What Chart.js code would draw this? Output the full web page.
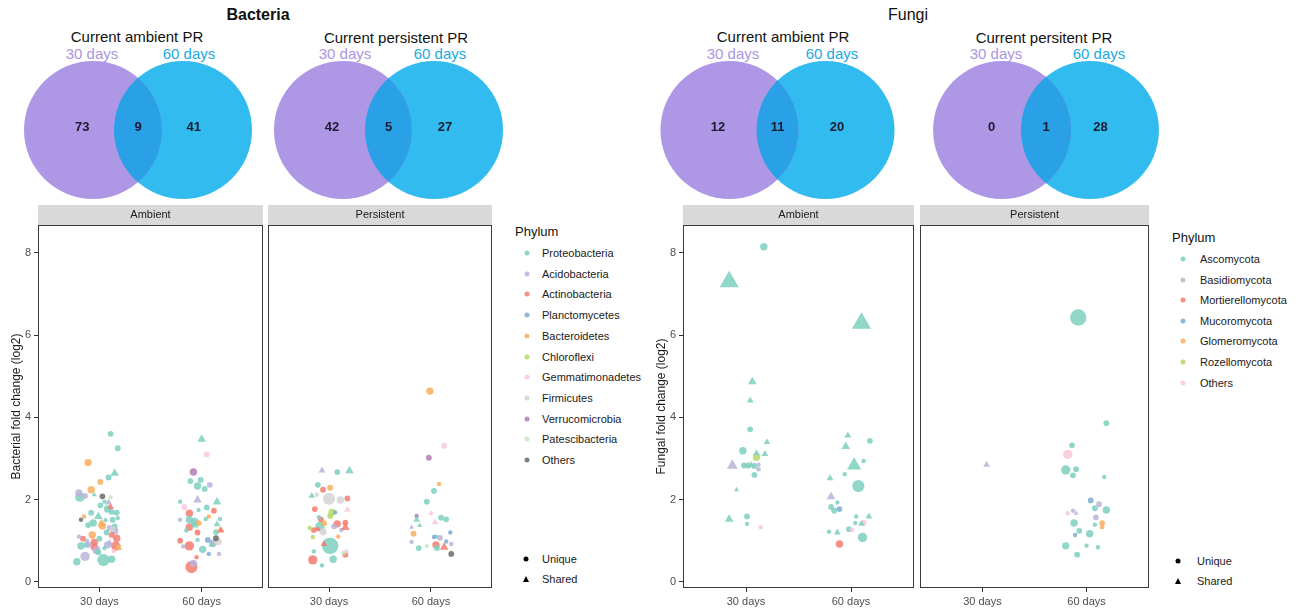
<!DOCTYPE html>
<html lang="en">
<head>
  <meta charset="UTF-8">
  <title>Bacteria and fungi fold change</title>
  <style>
* { margin: 0; padding: 0; box-sizing: border-box; }
body {
  width: 1301px;
  height: 614px;
  position: relative;
  overflow: hidden;
  background: #fff;
  font-family: "Liberation Sans", Arial, sans-serif;
  color: #111;
}
canvas { position: absolute; }
.c {
  position: absolute;
  transform: translate(-50%, -50%);
  white-space: nowrap;
}
.l {
  position: absolute;
  transform: translateY(-50%);
  white-space: nowrap;
}
.head { font-size: 16px; }
.sub { font-size: 15px; }
.d30 { font-size: 15px; color: #ab95df; }
.d60 { font-size: 15px; color: #22a9e1; }
.key { font-size: 11px; color: #1a1a1a; }
.ktitle { font-size: 13px; color: #111; }
.dot { position: absolute; width: 5px; height: 5px; border-radius: 50%; transform: translate(-50%, -50%); }
.tri { position: absolute; width: 0; height: 0; border-left: 3.5px solid transparent; border-right: 3.5px solid transparent; border-bottom: 6px solid #000; transform: translate(-50%, -50%); }
  </style>
</head>
<body>
  <div class="c head" style="left:258px;top:15px;font-weight:bold">Bacteria</div>
  <div class="c sub" style="left:137px;top:36px">Current ambient PR</div>
  <div class="c sub" style="left:396px;top:37px">Current persistent PR</div>
  <div class="c d30" style="left:92px;top:53px">30 days</div>
  <div class="c d60" style="left:189px;top:53px">60 days</div>
  <div class="c d30" style="left:345px;top:53px">30 days</div>
  <div class="c d60" style="left:440px;top:53px">60 days</div>

  <div class="c head" style="left:908px;top:15px">Fungi</div>
  <div class="c sub" style="left:783px;top:36px">Current ambient PR</div>
  <div class="c sub" style="left:1044px;top:37px">Current persitent PR</div>
  <div class="c d30" style="left:733px;top:53px">30 days</div>
  <div class="c d60" style="left:832px;top:53px">60 days</div>
  <div class="c d30" style="left:996px;top:53px">30 days</div>
  <div class="c d60" style="left:1099px;top:53px">60 days</div>

  <canvas id="vennBA"></canvas>
  <canvas id="vennBP"></canvas>
  <canvas id="vennFA"></canvas>
  <canvas id="vennFP"></canvas>

  <canvas id="bactAmb"></canvas>
  <canvas id="bactPer"></canvas>
  <canvas id="fungAmb"></canvas>
  <canvas id="fungPer"></canvas>

  <script src="https://cdn.jsdelivr.net/npm/chart.js@4.4.0/dist/chart.umd.min.js"></script>
  <script>
    // ---- data ----
    const groups = ['30 days', '60 days'];
    const yTicks = [0, 2, 4, 6, 8];

    // venn counts: [only 30 days, both, only 60 days]
    const vennBactAmbient = [73, 9, 41];
    const vennBactPersistent = [42, 5, 27];
    const vennFungiAmbient = [12, 11, 20];
    const vennFungiPersistent = [0, 1, 28];

    const bacteriaPhyla = ['Proteobacteria', 'Acidobacteria', 'Actinobacteria', 'Planctomycetes', 'Bacteroidetes',
      'Chloroflexi', 'Gemmatimonadetes', 'Firmicutes', 'Verrucomicrobia', 'Patescibacteria', 'Others'];
    const fungiPhyla = ['Ascomycota', 'Basidiomycota', 'Mortierellomycota', 'Mucoromycota', 'Glomeromycota',
      'Rozellomycota', 'Others'];
    const shapes = ['Unique', 'Shared'];

    // points: [day position (jittered), log2 fold change, phylum index, shared (0/1), abundance class]
    const bactAmbient = [
      [1.11,3.60,0,0,2],[1.18,3.25,0,0,2],[0.89,2.90,4,0,3],[1.15,2.64,0,1,3],[1.09,2.54,0,0,2],[1.01,2.43,4,0,2],
      [0.92,2.24,4,0,3],[0.80,2.16,1,0,3],[0.81,2.06,0,0,4],[0.95,2.12,0,1,1],[1.03,2.08,10,0,2],[1.11,2.06,9,0,1],
      [1.05,1.95,0,0,1],[1.09,1.93,1,1,2],[1.01,1.86,0,0,2],[1.11,1.82,2,1,2],[1.08,1.77,0,0,3],[1.17,1.68,0,0,2],
      [0.92,1.68,0,0,2],[1.12,1.70,0,0,2],[0.82,1.51,10,0,1],[0.85,1.59,4,0,1],[0.99,1.59,0,1,3],[0.94,1.43,0,0,3],
      [1.02,1.41,4,1,3],[1.03,1.36,4,0,3],[1.13,1.51,0,0,2],[1.15,1.35,0,0,2],[1.10,1.31,1,0,2],[1.13,1.28,7,0,2],
      [1.15,1.24,1,0,3],[0.93,1.14,4,0,3],[1.17,1.06,2,0,3],[1.12,1.14,2,0,2],[0.80,1.10,1,0,1],[0.95,0.96,2,0,3],
      [0.82,0.87,0,0,3],[0.87,0.90,0,0,2],[0.95,0.85,2,0,3],[0.98,0.80,1,0,2],[1.08,0.90,1,0,3],[1.16,0.87,2,0,4],
      [1.19,0.86,4,0,1],[0.97,0.76,1,0,3],[1.05,0.82,0,0,1],[0.78,0.49,0,0,3],[0.86,0.62,1,0,4],[1.04,0.53,0,0,5],
      [1.12,0.55,0,0,3],[1.00,1.05,0,0,2],[0.88,1.00,1,0,1],[0.99,0.72,0,0,2],[1.14,0.75,6,0,1],[0.89,1.38,0,0,2],
      [1.19,0.83,9,0,1],[1.06,1.50,0,0,1],[0.90,0.90,1,0,2],[1.18,1.55,0,0,1],[0.84,1.05,2,0,2],[1.07,1.20,0,0,2],
      [0.86,2.09,1,0,2],[1.19,0.82,4,1,2],[1.10,0.95,1,1,2],
      [2.00,3.47,0,1,3],[2.05,3.10,6,0,2],[1.92,2.67,8,0,3],[1.89,2.45,0,0,2],[1.99,2.48,0,0,2],[2.08,2.36,1,0,2],
      [1.96,2.33,0,0,3],[2.03,2.26,0,0,2],[1.79,1.95,0,0,1],[1.96,1.99,1,1,3],[2.15,1.94,0,1,3],[1.83,1.82,6,0,2],
      [2.05,1.81,0,0,2],[2.12,1.73,2,0,2],[1.88,1.67,2,0,3],[1.97,1.75,0,0,1],[1.79,1.51,1,0,1],[1.88,1.51,0,0,3],
      [1.93,1.47,0,0,3],[1.88,1.33,2,0,3],[2.04,1.53,0,0,1],[2.18,1.53,0,0,1],[2.07,1.59,4,0,1],[2.15,1.40,0,1,2],
      [1.96,1.20,2,0,2],[2.18,1.26,4,1,2],[1.79,1.00,2,0,2],[2.14,1.06,10,0,2],[2.06,1.02,3,0,2],[2.11,0.94,1,0,3],
      [2.16,0.98,7,0,3],[2.01,0.79,0,0,3],[1.88,0.875,2,0,4],[1.82,0.86,1,0,1],[1.96,1.02,0,0,1],[2.10,0.90,0,1,2],
      [2.07,0.68,3,0,1],[2.17,0.68,1,0,1],[1.95,0.60,2,0,1],[1.90,0.36,2,0,5],[1.92,0.45,1,0,3],[1.97,1.43,4,0,2],
      [1.93,1.38,0,1,3],[2.14,1.21,0,0,2],[1.85,1.25,0,0,1],[2.19,1.25,2,1,2]
    ];
    const bactPersistent = [
      [0.93,2.71,1,1,2],[1.08,2.67,0,0,2],[1.20,2.70,0,1,3],[0.89,2.36,0,0,2],[1.01,2.29,4,0,2],[0.94,2.24,2,0,2],
      [0.83,2.09,0,1,2],[0.88,2.12,7,0,1],[1.00,2.02,7,0,5],[1.11,1.99,7,0,3],[1.18,2.03,2,0,2],[0.86,1.77,2,0,2],
      [1.18,1.75,6,1,2],[1.03,1.69,5,0,3],[1.01,1.60,5,0,2],[1.06,1.69,3,0,1],[0.90,1.57,0,0,1],[0.92,1.52,2,0,2],
      [1.08,1.41,2,0,3],[1.05,1.35,1,0,2],[1.16,1.44,2,0,2],[1.16,1.32,2,1,3],[0.95,1.43,4,0,2],[0.91,1.35,0,0,4],
      [0.81,1.31,5,0,1],[0.85,1.26,2,0,2],[0.89,1.28,2,0,1],[0.94,1.22,7,0,3],[0.84,1.09,5,0,1],[1.12,1.26,1,0,1],
      [1.09,1.10,4,0,1],[1.01,0.875,0,0,6],[0.95,0.92,2,1,2],[1.17,0.74,6,0,1],[1.14,0.70,9,0,1],[1.16,0.66,2,0,2],
      [0.85,0.74,0,0,1],[0.84,0.535,2,0,4],[1.04,0.55,0,0,3],[0.93,0.40,0,0,1],
      [2.13,3.31,6,0,2],[1.98,3.02,8,0,2],[2.08,2.38,4,0,1],[2.03,2.21,0,0,2],[1.96,1.95,0,0,2],[2.00,1.67,6,0,1],
      [1.86,1.60,8,0,1],[2.10,1.56,0,0,2],[2.15,1.52,0,0,2],[2.04,1.45,6,1,2],[1.86,1.51,0,1,2],[1.89,1.37,0,1,1],
      [1.81,1.33,1,1,1],[1.83,1.17,4,0,2],[2.19,1.20,3,0,1],[2.05,1.10,0,0,1],[2.03,1.09,3,0,1],[2.09,1.07,1,0,2],
      [1.81,0.97,1,0,1],[2.15,0.98,3,0,1],[2.20,0.92,1,0,1],[2.05,0.90,2,0,3],[1.88,0.82,0,0,2],[1.96,0.875,9,0,1],
      [2.06,0.82,0,0,2],[2.13,0.84,2,1,3],[2.20,0.68,10,0,2],[1.99,4.64,4,0,3]
    ];
    const fungiAmbient = [
      [1.17,8.15,0,0,3],[0.84,7.30,0,1,6],[1.06,4.87,0,1,3],[1.04,4.41,0,1,2],[1.04,3.71,0,0,2],[1.20,3.40,0,1,2],
      [0.97,3.19,0,0,3],[1.10,3.13,0,1,2],[1.18,3.11,0,1,2],[1.10,3.03,5,0,3],[0.87,2.83,1,1,4],[0.98,2.83,0,0,2],
      [1.02,2.83,0,0,2],[1.12,2.85,1,0,1],[1.12,2.74,1,0,1],[1.08,2.60,0,0,2],[0.91,2.24,0,1,1],[0.84,1.52,0,1,3],
      [1.01,1.59,0,0,2],[1.01,1.41,0,0,1],[1.14,1.33,6,0,1],[1.05,2.84,0,1,2],[1.08,2.82,0,0,2],
      [2.10,6.29,0,1,6],[1.97,3.56,0,1,2],[2.18,3.43,0,0,2],[1.95,3.29,0,1,3],[2.03,2.83,0,1,5],[2.12,2.94,0,0,1],
      [1.94,2.62,0,0,1],[1.80,2.52,0,1,2],[2.07,2.33,0,0,5],[1.81,2.07,1,1,3],[1.87,1.93,0,0,1],[1.81,1.82,0,0,2],
      [1.84,1.73,0,0,2],[1.89,1.77,3,0,2],[2.05,1.59,0,0,1],[2.17,1.59,0,1,2],[2.04,1.43,0,0,1],[2.10,1.41,0,1,2],
      [2.12,1.44,6,0,2],[1.79,1.22,0,0,1],[1.87,1.20,0,1,2],[1.98,1.28,0,0,2],[2.01,1.26,6,0,1],[2.11,1.08,0,0,4],
      [1.89,0.92,2,0,3]
    ];
    const fungiPersistent = [
      [1.04,2.85,1,1,2],
      [1.92,6.43,0,0,6],[2.19,3.86,0,0,2],[1.86,3.32,0,0,2],[1.82,3.10,6,0,4],[1.80,2.72,0,0,4],[1.90,2.74,0,0,2],
      [1.87,2.59,0,0,2],[2.17,2.55,0,0,1],[2.04,1.98,3,0,2],[2.12,1.89,1,0,2],[2.08,1.79,0,0,2],[2.19,1.75,0,0,3],
      [1.82,1.67,6,0,1],[1.87,1.73,1,0,1],[1.90,1.67,1,1,1],[2.09,1.57,1,0,2],[1.88,1.43,0,0,3],[2.08,1.39,0,0,1],
      [2.15,1.43,4,0,2],[2.15,1.33,4,0,1],[1.93,1.24,0,0,2],[1.89,1.14,3,0,1],[2.03,1.17,0,0,3],[1.80,0.875,0,0,3],
      [2.00,0.88,0,0,1],[2.11,0.84,0,0,1],[1.91,0.66,0,0,2]
    ];

    // ---- styles ----
    const bacteriaColors = ['#7ccfc0', '#bab4d8', '#f47b6e', '#7eadd0', '#f9ad5c', '#b2db66',
      '#f8c8dd', '#d4d4d4', '#b37bb6', '#c8e8c0', '#6a6a6a'];
    const fungiColors = ['#7ccfc0', '#bab4d8', '#f47b6e', '#7eadd0', '#f9ad5c', '#b2db66', '#f8c8dd'];
    const RADII = [0, 2.2, 2.9, 3.7, 4.7, 6.1, 8.2];
    const FONT = '"Liberation Sans", Arial, sans-serif';
    Chart.defaults.font.family = FONT;

    function rgba(hex, a) {
      const n = parseInt(hex.slice(1), 16);
      return `rgba(${n >> 16},${(n >> 8) & 255},${n & 255},${a})`;
    }

    // ---- venn diagrams ----
    function vennChart(id, cx1, cx2, counts) {
      const d = cx2 - cx1;
      const cv = document.getElementById(id);
      cv.width = Math.round(d * 2.8);
      cv.height = 150;
      cv.style.left = (cx1 - d * 0.9) + 'px';
      cv.style.top = '55px';
      const lens = {
        id: 'lens',
        afterDatasetsDraw(chart) {
          const ctx = chart.ctx;
          const a = chart.getDatasetMeta(0).data[0];
          const b = chart.getDatasetMeta(1).data[0];
          const r = a.options.radius;
          ctx.save();
          ctx.beginPath();
          ctx.arc(a.x, a.y, r, 0, Math.PI * 2);
          ctx.clip();
          ctx.beginPath();
          ctx.arc(b.x, b.y, r, 0, Math.PI * 2);
          ctx.fillStyle = '#2aa1e7';
          ctx.fill();
          ctx.restore();
          const gap = b.x - a.x;
          ctx.save();
          ctx.font = 'bold 13px ' + FONT;
          ctx.fillStyle = '#1b1b30';
          ctx.textAlign = 'center';
          ctx.textBaseline = 'middle';
          ctx.fillText(counts[0], a.x - gap * 0.12, a.y - 3);
          ctx.fillText(counts[1], (a.x + b.x) / 2, a.y - 3);
          ctx.fillText(counts[2], b.x + gap * 0.12, a.y - 3);
          ctx.restore();
        }
      };
      new Chart(cv, {
        type: 'scatter',
        data: {
          datasets: [
            { data: [{ x: 0, y: 0 }], pointBackgroundColor: '#ae97e5', pointBorderWidth: 0, pointRadius: 69, clip: false },
            { data: [{ x: 1, y: 0 }], pointBackgroundColor: '#31bbef', pointBorderWidth: 0, pointRadius: 69, clip: false }
          ]
        },
        options: {
          responsive: false,
          animation: false,
          events: [],
          layout: { padding: 0, autoPadding: false },
          plugins: { legend: { display: false }, tooltip: { enabled: false } },
          scales: {
            x: { display: false, min: -0.9, max: 1.9 },
            y: { display: false, min: -1, max: 1 }
          }
        },
        plugins: [lens]
      });
    }

    vennChart('vennBA', 93, 183, vennBactAmbient);
    vennChart('vennBP', 343, 434, vennBactPersistent);
    vennChart('vennFA', 729, 825, vennFungiAmbient);
    vennChart('vennFP', 1002, 1090, vennFungiPersistent);

    // ---- scatter panels ----
    function panelChart(id, left, width, padL, padR, points, colors, strip, yTitle) {
      const cv = document.getElementById(id);
      cv.width = width;
      cv.height = 414;
      cv.style.left = left + 'px';
      cv.style.top = '200px';
      const showY = !!yTitle;
      const sorted = points.slice().sort((a, b) => b[4] - a[4]);
      const makeSet = shared => ({
        data: sorted.filter(p => p[3] === shared).map(p => ({ x: p[0], y: p[1], ph: p[2], lv: p[4] })),
        pointStyle: shared ? 'triangle' : 'circle',
        pointRadius: c => c.raw ? RADII[c.raw.lv] * (shared ? 1.35 : 1) : 0,
        pointBackgroundColor: c => c.raw ? rgba(colors[c.raw.ph], 0.85) : 'transparent',
        pointBorderWidth: 0,
        borderWidth: 0
      });
      const deco = {
        id: 'deco',
        afterDraw(chart) {
          const ctx = chart.ctx;
          const { left, right, top, bottom } = chart.chartArea;
          ctx.save();
          ctx.fillStyle = '#d9d9d9';
          ctx.fillRect(left, top - 20, right - left, 20);
          ctx.font = '11px ' + FONT;
          ctx.fillStyle = '#1a1a1a';
          ctx.textAlign = 'center';
          ctx.textBaseline = 'middle';
          ctx.fillText(strip, (left + right) / 2, top - 10);
          ctx.strokeStyle = '#3a3a3a';
          ctx.lineWidth = 1;
          ctx.strokeRect(left + 0.5, top + 0.5, right - left - 1, bottom - top - 1);
          ctx.restore();
        }
      };
      new Chart(cv, {
        type: 'scatter',
        data: { datasets: [makeSet(1), makeSet(0)] },
        options: {
          responsive: false,
          animation: false,
          events: [],
          layout: { padding: { top: 25, left: padL, right: padR, bottom: 0 }, autoPadding: false },
          plugins: { legend: { display: false }, tooltip: { enabled: false } },
          scales: {
            x: {
              type: 'linear',
              min: 0.4,
              max: 2.6,
              afterBuildTicks: s => { s.ticks = groups.map((g, i) => ({ value: i + 1 })); },
              afterFit: s => { s.height = 26; },
              ticks: {
                callback: v => groups[Math.round(v) - 1],
                color: '#4d4d4d',
                font: { size: 11 },
                padding: 3,
                maxRotation: 0,
                autoSkip: false
              },
              grid: { display: true, drawOnChartArea: false, drawTicks: true, tickLength: 4, color: '#333' },
              border: { display: false }
            },
            y: {
              min: -0.15,
              max: 8.68,
              afterBuildTicks: s => { s.ticks = yTicks.map(v => ({ value: v })); },
              afterFit: s => { s.width = showY ? 38 : 0; },
              ticks: { display: showY, color: '#4d4d4d', font: { size: 11 }, padding: 3 },
              grid: { display: showY, drawOnChartArea: false, drawTicks: true, tickLength: 4, color: '#333' },
              border: { display: false },
              title: {
                display: showY,
                text: yTitle || '',
                color: '#1a1a1a',
                font: { size: 12 },
                padding: { top: 9, bottom: 0 }
              }
            }
          }
        },
        plugins: [deco]
      });
    }

    panelChart('bactAmb', 0, 266, 0, 3, bactAmbient, bacteriaColors, 'Ambient', 'Bacterial fold change (log2)');
    panelChart('bactPer', 266, 228, 2, 2, bactPersistent, bacteriaColors, 'Persistent', null);
    panelChart('fungAmb', 645, 272, 0, 3, fungiAmbient, fungiColors, 'Ambient', 'Fungal fold change (log2)');
    panelChart('fungPer', 918, 233, 2, 2, fungiPersistent, fungiColors, 'Persistent', null);

    // ---- legends ----
    function addEl(cls, x, y, text, extra) {
      const el = document.createElement('div');
      el.className = cls;
      el.style.left = x + 'px';
      el.style.top = y + 'px';
      if (text) el.textContent = text;
      if (extra) Object.assign(el.style, extra);
      document.body.appendChild(el);
      return el;
    }

    function legend(names, colors, o) {
      addEl('l ktitle', o.x, o.titleY, 'Phylum');
      names.forEach((n, i) => {
        const y = o.y0 + i * o.step;
        addEl('dot', o.dotX, y, '', { background: rgba(colors[i], 0.85) });
        addEl('l key', o.textX, y, n);
      });
      shapes.forEach((s, i) => {
        const y = o.shapeY + i * 20;
        addEl(i ? 'tri' : 'dot', o.shapeDotX, y, '', i ? {} : { background: '#000' });
        addEl('l key', o.shapeTextX, y, s);
      });
    }

    legend(bacteriaPhyla, bacteriaColors,
      { x: 515, titleY: 231, dotX: 527, textX: 542, y0: 253, step: 20.7, shapeY: 559, shapeDotX: 526, shapeTextX: 542 });
    legend(fungiPhyla, fungiColors,
      { x: 1172, titleY: 237, dotX: 1183, textX: 1200, y0: 259, step: 20.6, shapeY: 561, shapeDotX: 1178, shapeTextX: 1197 });
  </script>
</body>
</html>
